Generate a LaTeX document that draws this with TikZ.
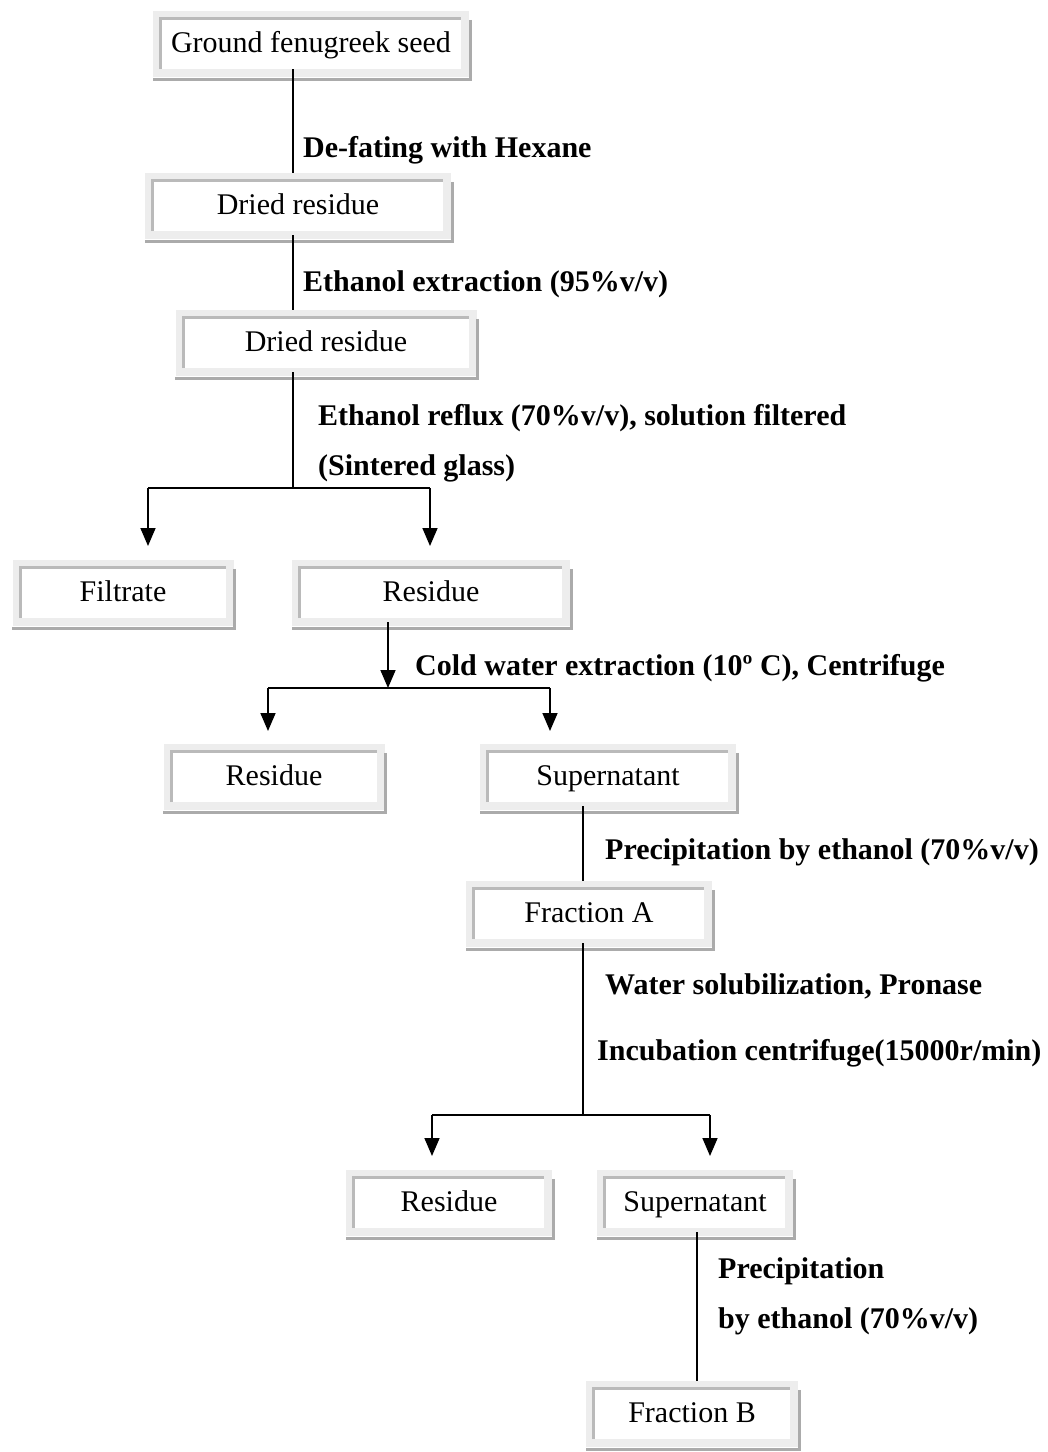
\documentclass[tikz,border=0pt]{standalone}
\usepackage{fontspec}
\setmainfont{Liberation Serif}
\usetikzlibrary{arrows.meta}

\tikzset{
  procbox/.style={minimum height=50pt, inner sep=0pt, fill=white,
    text height=20pt, text depth=3pt,
    preaction={draw=black!7, line width=16pt},
    font=\fontsize{30pt}{36pt}\selectfont},
  steptext/.style={anchor=west, inner sep=0pt, font=\bfseries\fontsize{30pt}{36pt}\selectfont},
  flow/.style={line width=1.6pt},
  flowarrow/.style={line width=1.6pt, -{Triangle[length=18pt,width=15pt]}},
  frameline/.style={draw=black!27, line width=3pt},
  shadeline/.style={draw=black!33, line width=3pt}
}

\begin{document}
\begin{tikzpicture}[x=1pt,y=-1pt]
			%%%%% START %%%%%
			\useasboundingbox (0,0) rectangle (1048,1452);
			
			% boxes
			\node[procbox, minimum width=300pt] (seed) at (311,44) {Ground fenugreek seed};
			\node[procbox, minimum width=290pt] (dry1) at (298,206) {Dried residue};
			\node[procbox, minimum width=285pt] (dry2) at (326,343) {Dried residue};
			\node[procbox, minimum width=205pt] (filt) at (123,593) {Filtrate};
			\node[procbox, minimum width=262pt] (res1) at (431,593) {Residue};
			\node[procbox, minimum width=205pt] (res2) at (274,777) {Residue};
			\node[procbox, minimum width=240pt] (sup1) at (608,777) {Supernatant};
			\node[procbox, minimum width=230pt] (fracA) at (589,914) {Fraction A};
			\node[procbox, minimum width=190pt] (res3) at (449,1203) {Residue};
			\node[procbox, minimum width=180pt] (sup2) at (695,1203) {Supernatant};
			\node[procbox, minimum width=196pt] (fracB) at (692,1414) {Fraction B};
			
			\foreach \b in {seed,dry1,dry2,filt,res1,res2,sup1,fracA,res3,sup2,fracB}{
				\draw[frameline] (\b.south west) -- (\b.north west) -- (\b.north east);
				\draw[shadeline] ([xshift=9pt,yshift=-1pt]\b.north east) -- ([xshift=9pt,yshift=-10pt]\b.south east) -- ([xshift=-8pt,yshift=-10pt]\b.south west);
			}
			
			% spines
			\coordinate (s1) at (293,0);
			\coordinate (s2) at (388,0);
			\coordinate (s3) at (583,0);
			\coordinate (s4) at (697,0);
			
			\draw[flow] (seed.south -| s1) -- ([yshift=8pt]dry1.north -| s1);
			\draw[flow] ([yshift=-4pt]dry1.south -| s1) -- ([yshift=8pt]dry2.north -| s1);
			
			\coordinate (split1) at (293,488);
			\coordinate (left1) at (148,488);
			\coordinate (right1) at (430,488);
			\draw[flow] ([yshift=-4pt]dry2.south -| s1) -- (split1);
			\draw[flow] (left1) -- (right1);
			\draw[flowarrow] (left1) -- ++(0,58);
			\draw[flowarrow] (right1) -- ++(0,58);
			
			\coordinate (split2) at (388,688);
			\coordinate (left2) at (268,688);
			\coordinate (right2) at (550,688);
			\draw[flowarrow] ([yshift=-4pt]res1.south -| s2) -- (split2);
			\draw[flow] (left2) -- (right2);
			\draw[flowarrow] (left2) -- ++(0,43);
			\draw[flowarrow] (right2) -- ++(0,43);
			
			\draw[flow] ([yshift=-4pt]sup1.south -| s3) -- ([yshift=8pt]fracA.north -| s3);
			
			\coordinate (split3) at (583,1115);
			\coordinate (left3) at (432,1115);
			\coordinate (right3) at (710,1115);
			\draw[flow] ([yshift=-4pt]fracA.south -| s3) -- (split3);
			\draw[flow] (left3) -- (right3);
			\draw[flowarrow] (left3) -- ++(0,41);
			\draw[flowarrow] (right3) -- ++(0,41);
			
			\draw[flow] ([yshift=-4pt]sup2.south -| s4) -- ([yshift=8pt]fracB.north -| s4);
			
			% step labels
			\node[steptext] (lab1) at (303,150) {De-fating with Hexane};
			\node[steptext] (lab2) at (303,284) {Ethanol extraction (95\%v/v)};
			\node[steptext] (lab3) at (318,418) {Ethanol reflux (70\%v/v), solution filtered};
			\node[steptext] (lab4) at (318,468) {(Sintered glass)};
			\node[steptext] (lab5) at (415,668) {Cold water extraction (10º C), Centrifuge};
			\node[steptext] (lab6) at (605,852) {Precipitation by ethanol (70\%v/v)};
			\node[steptext] (lab7) at (605,986) {Water solubilization, Pronase};
			\node[steptext] (lab8) at (597,1053) {Incubation centrifuge(15000r/min)};
			\node[steptext] (lab9) at (718,1271) {Precipitation};
			\node[steptext] (lab10) at (718,1321) {by ethanol (70\%v/v)};
			
			%%%%% END %%%%%
		\end{tikzpicture}
\end{document}
